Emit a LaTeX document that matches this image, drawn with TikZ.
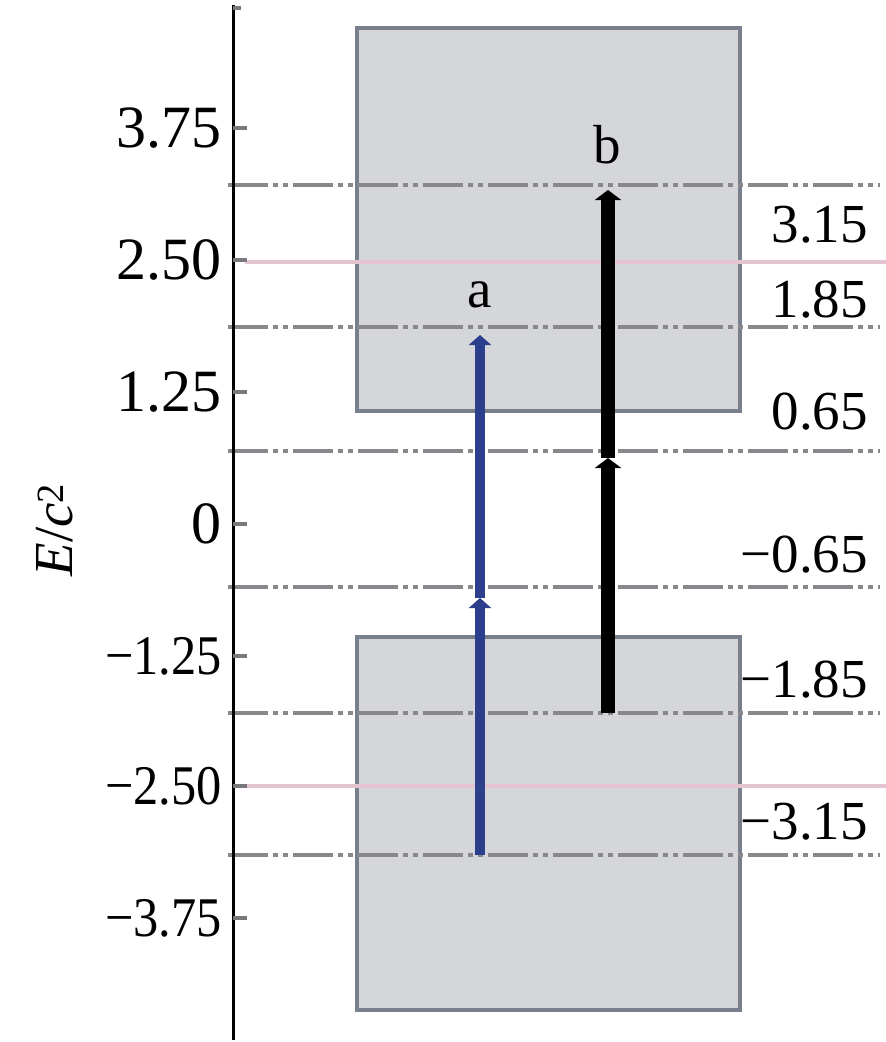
\documentclass[tikz,border=0pt]{standalone}
\usepackage{fontspec}
\setmainfont{Liberation Serif}
\usetikzlibrary{arrows.meta}
\definecolor{boxfill}{RGB}{212,214,218}
\definecolor{boxedge}{RGB}{120,128,142}
\definecolor{pinkline}{RGB}{228,196,208}
\definecolor{dashgrey}{RGB}{135,135,140}
\definecolor{arrowblue}{RGB}{44,62,140}
\definecolor{tickgrey}{RGB}{120,120,125}
\tikzset{
  band/.style={draw=boxedge, fill=boxfill, line width=4pt},
  pinkrule/.style={pinkline, line width=4pt},
  levelrule/.style={dashgrey, line width=3.5pt, dash pattern=on 40pt off 5pt on 5pt off 5pt on 5pt off 5pt},
  axistick/.style={tickgrey, line width=3.5pt},
  lbl/.style={font=\fontsize{55}{66}\selectfont, inner sep=0pt},
  biglbl/.style={font=\fontsize{60}{72}\selectfont, inner sep=0pt},
  neglbl/.style={font=\fontsize{56}{66}\selectfont, inner sep=0pt, xscale=0.9},
  arrA/.style={arrowblue, line width=10pt, -{Triangle[length=10pt,width=22pt]}},
  arrB/.style={black, line width=14pt, -{Triangle[length=10pt,width=26pt]}},
}
\begin{document}
\begin{tikzpicture}[x=1pt,y=-1pt]
\useasboundingbox (0,0) rectangle (886,1042);
% bands
\node[band, minimum width=383pt, minimum height=383pt, inner sep=0pt] (upper) at (548.5,219.5) {};
\node[band, minimum width=383pt, minimum height=373pt, inner sep=0pt] (lower) at (548.5,823.5) {};
% pink lines
\coordinate (p1s) at (245,262); \coordinate (p1e) at (886,262);
\coordinate (p2s) at (245,786); \coordinate (p2e) at (886,786);
\draw[pinkrule] (p1s) -- (p1e);
\draw[pinkrule] (p2s) -- (p2e);
% level lines
\foreach \n/\y in {l1/185, l2/327, l3/451, l4/587, l5/713, l6/855}{
  \coordinate (\n s) at (228,\y);
  \coordinate (\n e) at (880,\y);
  \draw[levelrule] (\n s) -- (\n e);
}
% axis
\coordinate (axtop) at (233,5);
\coordinate (axbot) at (233,1040);
\draw[black, line width=3pt] (axbot) -- (axtop);
\coordinate (t0a) at (233,8); \coordinate (t0b) at (241,8);
\draw[axistick] (t0a) -- (t0b);
\foreach \n/\y/\t in {k1/128/3.75, k2/260/2.50, k3/392/1.25, k4/524/0}{
  \coordinate (\n a) at (233,\y);
  \coordinate (\n b) at (247,\y);
  \draw[axistick] (\n a) -- (\n b);
  \node[biglbl, anchor=east] (\n) at (222,\y) {\t};
}
\foreach \n/\y/\t in {k5/656/{−1.25}, k6/786/{−2.50}, k7/918/{−3.75}}{
  \coordinate (\n a) at (233,\y);
  \coordinate (\n b) at (247,\y);
  \draw[axistick] (\n a) -- (\n b);
  \node[neglbl, anchor=east] (\n) at (222,\y) {\t};
}
% axis title
\node[lbl, rotate=90] (etitle) at (55,530) {\textit{E}/\textit{c}\textsuperscript{2}};
% arrows
\coordinate (a0) at (480,855); \coordinate (a1) at (480,598); \coordinate (a2) at (480,335);
\draw[arrA] (a0) -- (a1);
\draw[arrA] (a1) -- (a2);
\coordinate (b0) at (608,713); \coordinate (b1) at (608,458); \coordinate (b2) at (608,190);
\draw[arrB] (b0) -- (b1);
\draw[arrB] (b1) -- (b2);
\node[lbl] (la) at (480,295) {a};
\node[lbl] (lb) at (607,145) {b};
% right labels
\node[lbl, anchor=east] (r1) at (868,225) {3.15};
\node[lbl, anchor=east] (r2) at (868,300) {1.85};
\node[lbl, anchor=east] (r3) at (868,412) {0.65};
\node[lbl, anchor=east] (r4) at (868,555) {−0.65};
\node[lbl, anchor=east] (r5) at (868,680) {−1.85};
\node[lbl, anchor=east] (r6) at (868,822) {−3.15};
\end{tikzpicture}
\end{document}
